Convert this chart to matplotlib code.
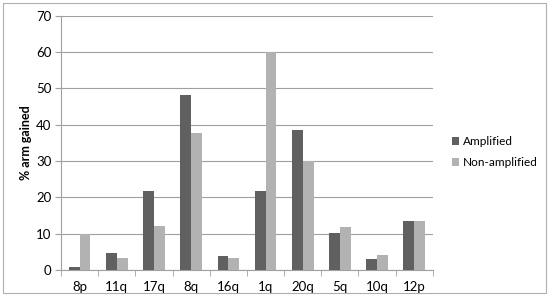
import matplotlib
matplotlib.use("Agg")
import matplotlib.pyplot as plt
import numpy as np
from matplotlib.patches import Rectangle

categories = ["8p", "11q", "17q", "8q", "16q", "1q", "20q", "5q", "10q", "12p"]
amplified = [0.8, 4.7, 21.8, 48.3, 3.9, 21.7, 38.6, 10.3, 3.0, 13.6]
non_amplified = [10.0, 3.3, 12.0, 37.8, 3.4, 60.0, 30.0, 11.7, 4.2, 13.4]
yticks = [0, 10, 20, 30, 40, 50, 60, 70]

plt.rcParams['font.family'] = ['Lato', 'DejaVu Sans']

fig = plt.figure(figsize=(5.5, 3.05), dpi=100)
ax = fig.add_axes([0.111, 0.115, 0.676, 0.833])

x = np.arange(len(categories))
w = 0.29
ax.bar(x - w/2, amplified, width=w, color="#606060", label="Amplified", zorder=3)
ax.bar(x + w/2, non_amplified, width=w, color="#b2b2b2", label="Non-amplified", zorder=3)

ax.set_xlim(-0.5, len(categories) - 0.5)
ax.set_ylim(0, 70)
ax.set_yticks(yticks)
ax.yaxis.grid(True, color="#a0a0a0", linewidth=0.8, zorder=0)
ax.set_xticks(x)
ax.set_xticklabels(categories)
ax.set_xticks(np.arange(-0.5, len(categories)), minor=True)
ax.tick_params(axis='x', which='major', length=0, pad=8, labelsize=9.5)
ax.tick_params(axis='x', which='minor', length=4, color="#a0a0a0", direction='out')
ax.tick_params(axis='y', length=4, color="#a0a0a0", labelsize=9.5, pad=3)
for s in ["top", "right"]:
    ax.spines[s].set_visible(False)
for s in ["left", "bottom"]:
    ax.spines[s].set_color("#a0a0a0")
ax.set_ylabel("% arm gained", fontsize=9, fontweight="bold", labelpad=3)

ax.legend(loc="center left", bbox_to_anchor=(1.0, 0.465), frameon=False,
          fontsize=8.5, handlelength=0.65, handleheight=0.65, handletextpad=0.3,
          labelspacing=0.85, borderaxespad=1.2)

fig.patches.append(Rectangle((0.005, 0.04), 0.987, 0.95, transform=fig.transFigure,
                             fill=False, edgecolor="#b0b0b0", linewidth=0.8))

fig.savefig("out.png", dpi=100)
